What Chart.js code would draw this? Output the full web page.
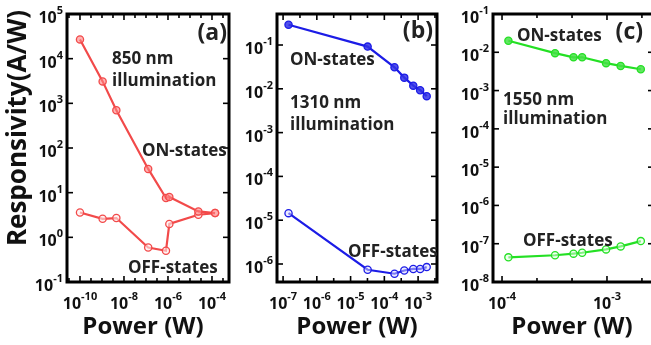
<!DOCTYPE html>
<html>
<head>
<meta charset="utf-8">
<script src="https://cdn.jsdelivr.net/npm/chart.js@4/dist/chart.umd.min.js"></script>
<style>
  html, body { margin: 0; padding: 0; background: #fff; overflow: hidden; }
  body { width: 651px; height: 345px; position: relative; }
  canvas { position: absolute; top: 0; }
</style>
</head>
<body>
<canvas id="chartA" width="240" height="345" style="left:0px"></canvas>
<canvas id="chartB" width="205" height="345" style="left:240px"></canvas>
<canvas id="chartC" width="209" height="345" style="left:445px"></canvas>
<script>
// (a) 850 nm
const powerA = [1e-10, 1.07e-9, 4.5e-9, 1.26e-7, 8.1e-7, 1.15e-6, 2.4e-5, 1.38e-4];
const onA = [2.7e4, 3.1e3, 700, 34, 7.6, 8, 3.8, 3.5];
const offA = [3.6, 2.6, 2.7, 0.59, 0.5, 2.0, 3.2, 3.5];
// (b) 1310 nm
const powerB = [1.45e-7, 3.2e-5, 2e-4, 3.9e-4, 7.2e-4, 1.15e-3, 1.8e-3];
const onB = [0.29, 0.092, 0.031, 0.018, 0.0118, 0.0093, 0.0068];
const offB = [1.45e-5, 7.4e-7, 6e-7, 7.1e-7, 7.7e-7, 7.7e-7, 8.5e-7];
// (c) 1550 nm
const powerC = [1.15e-4, 3.2e-4, 4.8e-4, 5.8e-4, 9.8e-4, 1.35e-3, 2.1e-3];
const onC = [0.02, 0.0095, 0.0074, 0.0074, 0.0052, 0.0044, 0.0036];
const offC = [4.4e-8, 5e-8, 5.5e-8, 5.8e-8, 7.1e-8, 8.5e-8, 1.17e-7];

// tick label exponents (10^n)
const xLabelsA = [-10, -8, -6, -4];
const yLabelsA = [-1, 0, 1, 2, 3, 4, 5];
const xLabelsB = [-7, -6, -5, -4, -3];
const yLabelsB = [-6, -5, -4, -3, -2, -1];
const xLabelsC = [-4, -3];
const yLabelsC = [-8, -7, -6, -5, -4, -3, -2, -1];

const FONT = '"Open Sans", "Liberation Sans", sans-serif';
const TEXT = "#222";

function points(xs, ys) {
  return xs.map((x, i) => ({ x: x, y: ys[i] }));
}

function range(from, to, step) {
  const out = [];
  for (let v = from; v <= to + 1e-9; v += step) out.push(Math.round(v * 1000) / 1000);
  return out;
}

// "10" with a raised exponent
function drawPower(ctx, exp, x, y, align) {
  const sup = String(exp);
  ctx.font = "bold 16px " + FONT;
  const wb = ctx.measureText("10").width;
  ctx.font = "bold 11px " + FONT;
  const ws = ctx.measureText(sup).width;
  const x0 = align === "right" ? x - wb - ws : x - (wb + ws) / 2;
  ctx.textAlign = "left";
  ctx.textBaseline = "alphabetic";
  ctx.font = "bold 16px " + FONT;
  ctx.fillText("10", x0, y);
  ctx.font = "bold 11px " + FONT;
  ctx.fillText(sup, x0 + wb, y - 9);
}

function framePlugin(cfg) {
  return {
    id: "frame",
    afterDraw(chart) {
      const { ctx, chartArea: a } = chart;
      const xs = chart.scales.x, ys = chart.scales.y;
      ctx.save();
      ctx.strokeStyle = "#000";
      ctx.lineWidth = 1.6;
      const line = (x1, y1, x2, y2) => {
        ctx.beginPath();
        ctx.moveTo(x1, y1);
        ctx.lineTo(x2, y2);
        ctx.stroke();
      };
      // inward ticks on all four sides
      cfg.xTicks.forEach((e) => {
        const px = xs.getPixelForValue(Math.pow(10, e));
        const len = cfg.xLabels.includes(e) ? 6 : 4;
        line(px, a.bottom, px, a.bottom - len);
        line(px, a.top, px, a.top + len);
      });
      cfg.yTicks.forEach((e) => {
        const py = ys.getPixelForValue(Math.pow(10, e));
        const len = cfg.yLabels.includes(e) ? 6 : 4;
        line(a.left, py, a.left + len, py);
        line(a.right, py, a.right - len, py);
      });
      ctx.lineWidth = 3;
      ctx.strokeRect(a.left, a.top, a.right - a.left, a.bottom - a.top);

      ctx.fillStyle = "#111";
      cfg.xLabels.forEach((e) => {
        drawPower(ctx, e, xs.getPixelForValue(Math.pow(10, e)), a.bottom + 27, "center");
      });
      cfg.yLabels.forEach((e) => {
        drawPower(ctx, e, a.left - 4, ys.getPixelForValue(Math.pow(10, e)) + 9, "right");
      });

      // axis titles
      ctx.font = "bold 24px " + FONT;
      ctx.textAlign = "center";
      ctx.fillText("Power (W)", cfg.titleX, 334);
      if (cfg.yTitle) {
        ctx.save();
        ctx.font = "bold 26px " + FONT;
        ctx.translate(26, 128);
        ctx.rotate(-Math.PI / 2);
        ctx.fillText(cfg.yTitle, 0, 0);
        ctx.restore();
      }

      // annotations
      ctx.fillStyle = TEXT;
      cfg.notes.forEach((n) => {
        ctx.font = "bold " + n.size + "px " + FONT;
        ctx.textAlign = n.align || "left";
        ctx.fillText(n.text, n.x, n.y);
      });
      ctx.restore();
    },
  };
}

function makePanel(id, cfg) {
  const ctx = document.getElementById(id).getContext("2d");
  const series = (label, ys, fill) => ({
    label: label,
    data: points(cfg.power, ys),
    showLine: true,
    borderColor: cfg.color,
    borderWidth: 2.2,
    pointRadius: 3.6,
    pointBorderWidth: 1.3,
    pointBorderColor: cfg.color,
    pointBackgroundColor: fill,
    backgroundColor: fill,
  });
  return new Chart(ctx, {
    type: "scatter",
    data: {
      datasets: [series("ON-states", cfg.on, cfg.onFill), series("OFF-states", cfg.off, cfg.offFill)],
    },
    options: {
      responsive: false,
      animation: false,
      events: [],
      layout: { padding: { left: 0, right: cfg.padRight, top: 14, bottom: 0 }, autoPadding: false },
      plugins: { legend: { display: false }, tooltip: { enabled: false } },
      scales: {
        x: {
          type: "logarithmic",
          min: Math.pow(10, cfg.xRange[0]),
          max: Math.pow(10, cfg.xRange[1]),
          ticks: { display: false },
          grid: { display: false },
          border: { display: false },
          afterFit: (s) => { s.height = 63; },
        },
        y: {
          type: "logarithmic",
          min: Math.pow(10, cfg.yRange[0]),
          max: Math.pow(10, cfg.yRange[1]),
          ticks: { display: false },
          grid: { display: false },
          border: { display: false },
          afterFit: (s) => { s.width = cfg.axisW; },
        },
      },
    },
    plugins: [framePlugin(cfg)],
  });
}

makePanel("chartA", {
  power: powerA, on: onA, off: offA,
  color: "#f24a4a", onFill: "rgba(255,130,130,0.6)", offFill: "rgba(255,235,235,0.6)",
  xRange: [-10.59, -3.227], yRange: [-1, 5],
  axisW: 67, padRight: 11,
  xLabels: xLabelsA, yLabels: yLabelsA,
  xTicks: range(-10.5, -3.5, 0.5), yTicks: range(-1, 5, 1),
  titleX: 143, yTitle: "Responsivity(A/W)",
  notes: [
    { text: "(a)", x: 227, y: 40, size: 23, align: "right" },
    { text: "850 nm", x: 112, y: 64, size: 17 },
    { text: "illumination", x: 112, y: 86, size: 17 },
    { text: "ON-states", x: 142, y: 156, size: 17 },
    { text: "OFF-states", x: 128, y: 273, size: 17 },
  ],
});

makePanel("chartB", {
  power: powerB, on: onB, off: offB,
  color: "#1c1ce6", onFill: "rgba(50,50,230,0.85)", offFill: "rgba(215,215,255,0.5)",
  xRange: [-7.18, -2.44], yRange: [-6.411, -0.292],
  axisW: 37, padRight: 8,
  xLabels: xLabelsB, yLabels: yLabelsB,
  xTicks: range(-7, -2.5, 0.5), yTicks: range(-6, -1, 1),
  titleX: 117,
  notes: [
    { text: "(b)", x: 193, y: 38, size: 23, align: "right" },
    { text: "ON-states", x: 50, y: 65, size: 17 },
    { text: "1310 nm", x: 50, y: 108, size: 17 },
    { text: "illumination", x: 50, y: 130, size: 17 },
    { text: "OFF-states", x: 108, y: 257, size: 17 },
  ],
});

makePanel("chartC", {
  power: powerC, on: onC, off: offC,
  color: "#24e024", onFill: "rgba(70,225,70,0.85)", offFill: "rgba(225,255,225,0.5)",
  xRange: [-4.086, -2.552], yRange: [-8, -1],
  axisW: 48, padRight: 0,
  xLabels: xLabelsC, yLabels: yLabelsC,
  xTicks: [-4, -3.667, -3.333, -3, -2.667], yTicks: range(-8, -1, 1),
  titleX: 127,
  notes: [
    { text: "ON-states", x: 72, y: 41, size: 17 },
    { text: "(c)", x: 198, y: 39, size: 23, align: "right" },
    { text: "1550 nm", x: 58, y: 105, size: 17 },
    { text: "illumination", x: 58, y: 124, size: 17 },
    { text: "OFF-states", x: 78, y: 246, size: 17 },
  ],
});
</script>
</body>
</html>
